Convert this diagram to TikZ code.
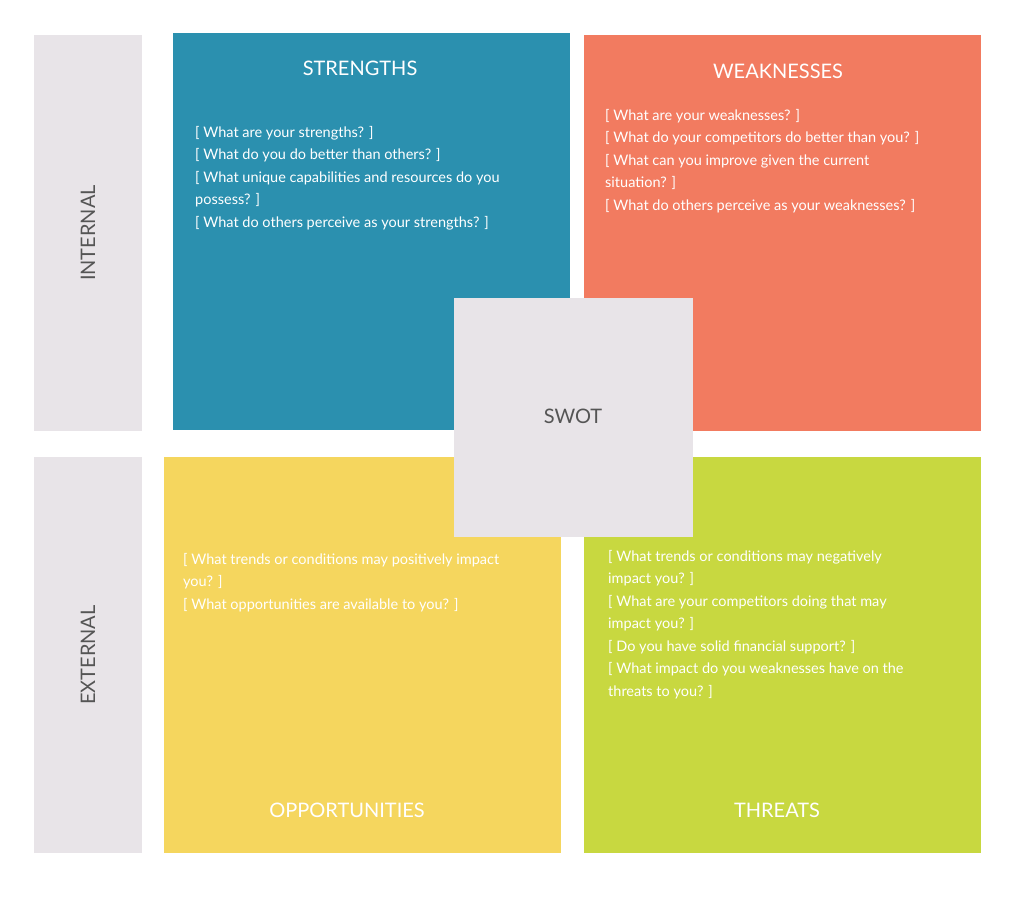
\documentclass[tikz,border=0pt]{standalone}
\usepackage{fontspec}
\setmainfont{Lato}
\definecolor{gbar}{HTML}{E8E4E8}
\definecolor{cS}{HTML}{2B90AF}
\definecolor{cW}{HTML}{F27B60}
\definecolor{cO}{HTML}{F5D65E}
\definecolor{cT}{HTML}{C8D840}
\definecolor{gtext}{HTML}{555555}
\begin{document}
\begin{tikzpicture}[x=1pt,y=-1pt,
  ttl/.style={text=white,font=\fontsize{20}{24}\selectfont,inner sep=0},
  body/.style={text=white,font=\fontsize{14.5}{22.5}\selectfont,align=left,anchor=north west,inner sep=0},
  side/.style={text=gtext,font=\fontsize{20}{24}\selectfont,rotate=90,inner sep=0}]
\path[use as bounding box] (0,0) rectangle (1024,918);
\fill[white] (0,0) rectangle (1024,918);
\fill[gbar] (34,35) rectangle (142,431);
\fill[gbar] (34,457) rectangle (142,853);
\fill[cS] (173,33) rectangle (570,430);
\fill[cW] (584,35) rectangle (981,431);
\fill[cO] (164,457) rectangle (561,853);
\fill[cT] (584,457) rectangle (981,853);
\fill[gbar] (454,298) rectangle (693,537);
\node[side] (int) at (88,233) {INTERNAL};
\node[side] (ext) at (88,655) {EXTERNAL};
\node[text=gtext,font=\fontsize{20}{24}\selectfont] (swot) at (573,416) {SWOT};
\node[ttl] (st) at (360,68) {STRENGTHS};
\node[ttl] (wt) at (778,71) {WEAKNESSES};
\node[ttl] (ot) at (347,810) {OPPORTUNITIES};
\node[ttl] (tt) at (777,810) {THREATS};
\node[body] (sb) at (195,126) {[ What are your strengths? ]\\{}[ What do you do better than others? ]\\{}[ What unique capabilities and resources do you\\possess? ]\\{}[ What do others perceive as your strengths? ]};
\node[body] (wb) at (605,109) {[ What are your weaknesses? ]\\{}[ What do your competitors do better than you? ]\\{}[ What can you improve given the current\\situation? ]\\{}[ What do others perceive as your weaknesses? ]};
\node[body] (ob) at (183,553) {[ What trends or conditions may positively impact\\you? ]\\{}[ What opportunities are available to you? ]};
\node[body] (tb) at (608,550) {[ What trends or conditions may negatively\\impact you? ]\\{}[ What are your competitors doing that may\\impact you? ]\\{}[ Do you have solid financial support? ]\\{}[ What impact do you weaknesses have on the\\threats to you? ]};
\end{tikzpicture}
\end{document}
